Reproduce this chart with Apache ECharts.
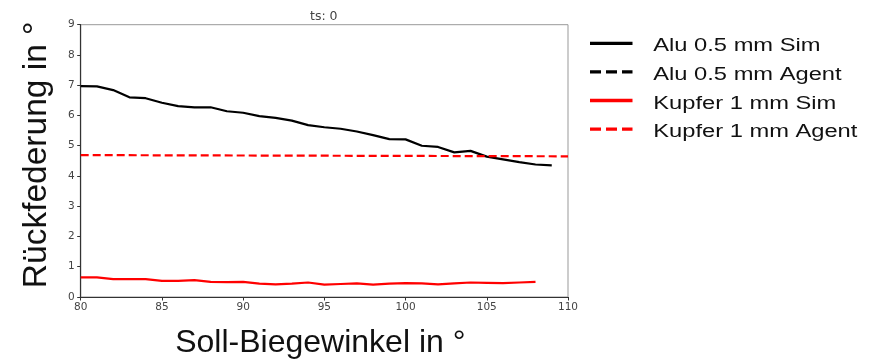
<!DOCTYPE html>
<html><head><meta charset="utf-8">
<script src="https://cdn.jsdelivr.net/npm/echarts@6/dist/echarts.min.js"></script>
<style>html,body{margin:0;padding:0;background:#fff}#c{width:875px;height:361px}</style>
</head><body><div id="c"></div>
<script>
const xValues = [80,81,82,83,84,85,86,87,88,89,90,91,92,93,94,95,96,97,98,99,100,101,102,103,104,105,106,107,108,109];
const aluSim = [6.97,6.96,6.84,6.6,6.57,6.42,6.31,6.27,6.27,6.14,6.09,5.98,5.92,5.83,5.68,5.61,5.56,5.47,5.35,5.22,5.21,5.0,4.96,4.78,4.83,4.64,4.55,4.46,4.38,4.35];
const aluAgent = [];
const kupferX = [80,81,82,83,84,85,86,87,88,89,90,91,92,93,94,95,96,97,98,99,100,101,102,103,104,105,106,107,108];
const kupferSim = [0.65,0.65,0.59,0.59,0.59,0.53,0.53,0.56,0.50,0.49,0.50,0.44,0.42,0.44,0.48,0.41,0.43,0.45,0.41,0.44,0.46,0.45,0.42,0.45,0.48,0.47,0.46,0.48,0.50];
const kupferAgentX = [80,110];
const kupferAgent = [4.69,4.65];
const xTicks = [80,85,90,95,100,105,110];
const yTicks = [0,1,2,3,4,5,6,7,8,9];
const seriesNames = ['Alu 0.5 mm Sim','Alu 0.5 mm Agent','Kupfer 1 mm Sim','Kupfer 1 mm Agent'];
const seriesColors = ['#000000','#000000','#ff0000','#ff0000'];
const seriesDashed = [false,true,false,true];

const zip = (xs, ys) => ys.map((v,i)=>[xs[i], v]);
const chart = echarts.init(document.getElementById('c'), null, {renderer:'canvas'});
const tickFont = {fontFamily:'DejaVu Sans', fontSize:10.5, color:'#444'};

// custom legend (text drawn horizontally widened like the reference)
const legendGraphics = [];
seriesNames.forEach((name, i) => {
  const rowY = 43.3 + i * 28.6;
  legendGraphics.push({
    type:'line', silent:true,
    shape:{x1:590, y1:rowY, x2:632.5, y2:rowY},
    style:{stroke:seriesColors[i], lineWidth:3.3, lineDash: seriesDashed[i] ? [11,5] : null}
  });
  legendGraphics.push({
    type:'text', silent:true, x:653.3, y:rowY + 3.1, scaleX:1.316,
    style:{text:name, fontFamily:'Liberation Sans', fontSize:18, fill:'#111', align:'left', verticalAlign:'middle'}
  });
});

chart.setOption({
  animation:false,
  title:{text:'ts: 0', left:305, top:5, textStyle:{fontFamily:'DejaVu Sans', fontSize:12.5, fontWeight:'normal', color:'#444'}},
  grid:{left:80.7, right:307, top:24.7, bottom:64, show:true, borderColor:'#999', borderWidth:1, outerBoundsMode:'none', containLabel:false},
  graphic:legendGraphics,
  xAxis:{type:'value', min:80, max:110, interval:5,
    name:'Soll-Biegewinkel in °', nameLocation:'middle', nameGap:30,
    nameTextStyle:{fontFamily:'Liberation Sans', fontSize:32, color:'#111', padding:[0,8,0,0]},
    axisLine:{show:true, lineStyle:{color:'#333', width:1.2}},
    axisTick:{show:true, length:3.5, lineStyle:{color:'#333'}},
    axisLabel:Object.assign({margin:5}, tickFont),
    splitLine:{show:false}},
  yAxis:{type:'value', min:0, max:9, interval:1,
    name:'Rückfederung in °', nameLocation:'middle', nameGap:27, nameRotate:90,
    nameTextStyle:{fontFamily:'Liberation Sans', fontSize:33.5, color:'#111', padding:[0,0,0,12]},
    axisLine:{show:true, lineStyle:{color:'#333', width:1.2}},
    axisTick:{show:true, length:3.5, lineStyle:{color:'#333'}},
    axisLabel:Object.assign({margin:6}, tickFont),
    splitLine:{show:false}},
  series:[
    {name:seriesNames[0], type:'line', data:zip(xValues, aluSim), symbol:'none', lineStyle:{color:seriesColors[0], width:2.2}, itemStyle:{color:seriesColors[0]}},
    {name:seriesNames[1], type:'line', data:aluAgent, symbol:'none', lineStyle:{color:seriesColors[1], width:2.2, type:[8,4]}, itemStyle:{color:seriesColors[1]}},
    {name:seriesNames[2], type:'line', data:zip(kupferX, kupferSim), symbol:'none', lineStyle:{color:seriesColors[2], width:2.2}, itemStyle:{color:seriesColors[2]}},
    {name:seriesNames[3], type:'line', data:zip(kupferAgentX, kupferAgent), symbol:'none', lineStyle:{color:seriesColors[3], width:2.2, type:[8,4]}, itemStyle:{color:seriesColors[3]}}
  ]
});
</script></body></html>
